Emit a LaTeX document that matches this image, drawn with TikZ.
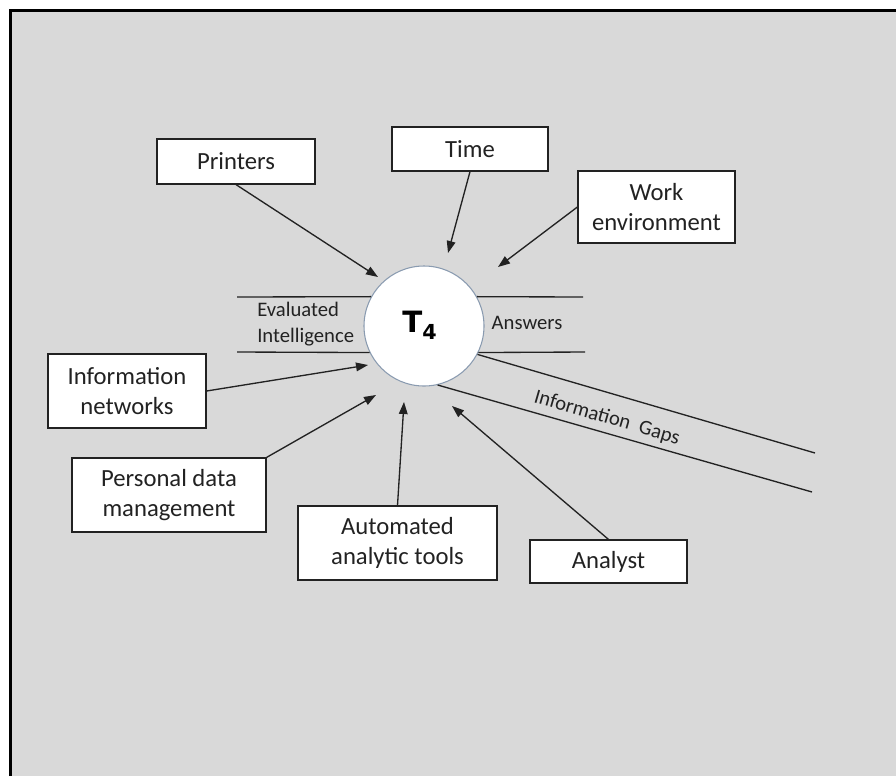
\documentclass[tikz,border=0pt]{standalone}
\usepackage{fontspec}
\setmainfont{Carlito}
\newfontfamily\heavyfont{DejaVu Sans Bold}
\usetikzlibrary{arrows.meta}
\definecolor{bg}{HTML}{D9D9D9}
\definecolor{ink}{HTML}{222222}
\definecolor{ringc}{HTML}{8A9BB0}
\tikzset{
  box/.style 2 args={draw=ink, line width=0.9pt, fill=white, align=center,
    font=\fontsize{18.5}{22.5}\selectfont, text=ink, inner sep=0pt,
    minimum width=#1*0.75pt, minimum height=#2*0.75pt},
  arr/.style={draw=ink, line width=1pt, -{Triangle[length=9pt,width=6.5pt]}},
  ln/.style={draw=ink, line width=1pt},
  smalltext/.style={font=\fontsize{15.5}{20}\selectfont, text=ink, inner sep=0pt}
}
\begin{document}
\begin{tikzpicture}[x=0.75pt,y=-0.75pt]
\useasboundingbox (0,0) rectangle (896,776);
\fill[white] (0,0) rectangle (896,776);
\fill[bg] (10,10) rectangle (896,776);
\draw[line width=2.7pt, black] (10.3,776) -- (10.3,10.3) -- (896,10.3);

% central process
\node[circle, draw=ringc, line width=0.8pt, fill=white, minimum size=90pt, inner sep=0pt] (c) at (424,326) {};
\node[anchor=base west, inner sep=0pt, text=black] (t4) at (402,332)
  {{\heavyfont\fontsize{22}{22}\selectfont T}\raisebox{-5.25pt}{\heavyfont\fontsize{15.5}{15.5}\selectfont 4}};

% flow lines
\coordinate (lu) at (237,297);
\coordinate (ll) at (237,352);
\coordinate (ru) at (583,297);
\coordinate (rl) at (585,352);
\coordinate (gu) at (815,453);
\coordinate (gl) at (812,492);
\draw[ln] (lu) -- (c.151);
\draw[ln] (ll) -- (c.206);
\draw[ln] (c.29) -- (ru);
\draw[ln] (c.334) -- (rl);
\draw[ln] (c.332) -- (gu);
\draw[ln] (c.283) -- (gl);

\node[smalltext, align=left, anchor=west] (ei) at (257,324) {Evaluated\\Intelligence};
\node[smalltext] (ans) at (527,323) {Answers};
\node[smalltext, rotate=-16.2] (gaps) at (607,418) {Information\ \ Gaps};

% boxes
\node[box={158}{45}] (pr) at (236,161.5) {Printers};
\node[box={156}{44}] (tm) at (470,149) {Time};
\node[box={157}{72}] (we) at (656.5,207) {Work\\environment};
\node[box={158}{74}] (in) at (127,391) {Information\\networks};
\node[box={194}{74}] (pd) at (169,495) {Personal data\\management};
\node[box={199}{74}] (at) at (397.5,543) {Automated\\analytic tools};
\node[box={157}{43}] (an) at (608.5,561.5) {Analyst};

% arrow tips
\coordinate (tP) at (378,277);
\coordinate (tT) at (448,253);
\coordinate (tW) at (498,267);
\coordinate (tI) at (368,365);
\coordinate (tPD) at (376,395);
\coordinate (tA) at (404,402);
\coordinate (tAn) at (452,406);

\draw[arr] (pr.south) -- (tP);
\draw[arr] (tm.south) -- (tT);
\draw[arr] (we.west) -- (tW);
\draw[arr] (in.east) -- (tI);
\draw[arr] (pd.north east) -- (tPD);
\draw[arr] (at.north) -- (tA);
\draw[arr] (an.north) -- (tAn);
\end{tikzpicture}
\end{document}
